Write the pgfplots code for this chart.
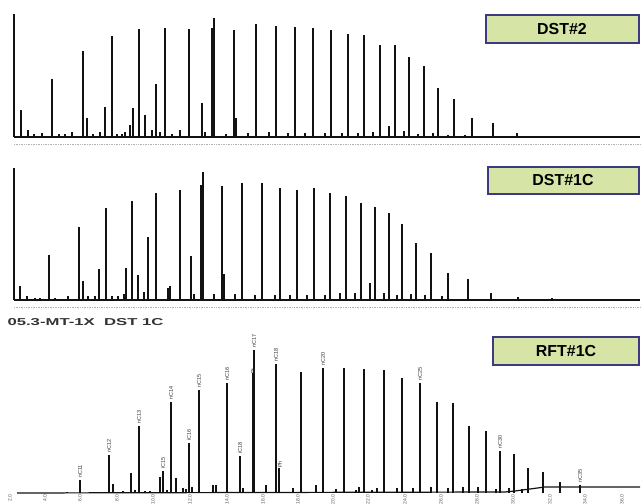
\documentclass[border=0pt]{standalone}
\usepackage{pgfplots}
\pgfplotsset{compat=1.18}
\usepackage{fontspec}
\setmainfont{Liberation Sans}
\usepackage{graphicx}
\definecolor{boxfill}{RGB}{214,228,166}
\definecolor{boxdraw}{RGB}{60,58,128}
\definecolor{ink}{RGB}{18,18,18}
\pgfplotsset{
 panel/.style={scale only axis, width=641bp, xmin=0, xmax=641,
   axis line style={draw=none}, xtick=\empty, ytick=\empty,
   clip=false, anchor=south west},
 peaks/.style={ycomb, ink, line width=1.8bp, mark=none},
 base/.style={ink, line width=1.2bp, mark=none},
}
\tikzset{plab/.style={font=\fontsize{5.5}{6}\selectfont, text=black!80, rotate=90, anchor=west, inner sep=1bp}}
\begin{document}
\begin{tikzpicture}[x=1bp,y=1bp]
\useasboundingbox (0,0) rectangle (641,504);
% ---------------- Panel 1: DST#2
\begin{axis}[panel, at={(0,354)}, height=150bp, ymin=-13, ymax=137]
\addplot[black!30, densely dotted, line width=0.7bp] coordinates {(14,-7) (640,-7)};
\addplot[base] coordinates {(14,0) (640,0)};
\addplot[peaks] coordinates {(14,123) (21,27) (28,7) (34,3) (42,4) (52,58) (59,3) (65,3) (72,5) (83,86) (87,19) (93,3) (100,5) (105,30) (112,101) (117,3) (122,3) (125,5) (130,12) (133,29) (139,108) (145,22) (152,7) (156,53) (160,5) (165,109) (172,3) (180,7) (189,108) (202,34) (205,5) (212,109) (214,119) (226,3) (234,107) (236,19) (248,4) (256,113) (269,5) (276,111) (288,4) (295,110) (305,4) (313,109) (325,4) (331,107) (342,4) (348,103) (358,4) (364,102) (373,5) (380,92) (389,11) (395,92) (404,6) (409,80) (418,3) (424,71) (433,4) (438,49) (448,2) (454,38) (465,2) (472,19) (493,14) (517,4) (547,1) (580,1)};
\draw[boxdraw, line width=2bp, fill=boxfill] (axis cs:486,94) rectangle (axis cs:639,122);
\node[font=\fontsize{16}{16}\selectfont\bfseries] at (axis cs:562,108) {DST\#2};
\end{axis}
% ---------------- Panel 2: DST#1C
\begin{axis}[panel, at={(0,186)}, height=168bp, ymin=-18, ymax=150]
\addplot[black!30, densely dotted, line width=0.7bp] coordinates {(14,-7) (640,-7)};
\addplot[base] coordinates {(14,0) (640,0)};
\addplot[peaks] coordinates {(14,132) (20,14) (27,4) (35,2) (40,2) (49,45) (55,2) (68,4) (79,73) (83,19) (88,4) (95,4) (99,31) (106,92) (112,4) (118,4) (124,6) (126,32) (132,99) (138,25) (144,8) (148,63) (156,107) (168,12) (170,14) (180,110) (191,44) (194,6) (201,115) (203,128) (214,6) (222,114) (224,26) (235,6) (242,117) (255,5) (262,117) (275,5) (280,112) (290,5) (297,110) (307,5) (314,112) (325,5) (330,107) (340,7) (346,104) (355,7) (361,97) (370,17) (375,93) (384,7) (389,87) (397,5) (402,76) (411,6) (416,57) (425,5) (431,47) (442,4) (448,27) (468,21) (481,1) (491,7) (518,3) (552,2) (590,1)};
\draw[boxdraw, line width=2bp, fill=boxfill] (axis cs:488,106) rectangle (axis cs:639,133);
\node[font=\fontsize{16}{16}\selectfont\bfseries] at (axis cs:563,119.5) {DST\#1C};
\end{axis}
% ---------------- Panel 3: RFT#1C
\begin{axis}[panel, at={(0,0)}, height=186bp, ymin=-11, ymax=175,
  axis x line=middle, axis y line=none,
  xtick={10,45,80,117,153,190,227,263,298,333,368,405,441,477,513,550,585,622},
  xticklabels={2.0,4.0,6.0,8.0,10.0,12.0,14.0,16.0,18.0,20.0,22.0,24.0,26.0,28.0,30.0,32.0,34.0,36.0},
  major tick length=0pt,
  xticklabel style={rotate=90, anchor=east, font=\fontsize{5}{5}\selectfont, text=black!65, inner sep=1.5bp}]
\addplot[base] coordinates {(17,0) (505,1) (515,2) (545,6) (640,6)};
\addplot[peaks, line width=1.5bp] coordinates {(67,1) (80,13) (98,1) (109,38) (113,9) (123,2) (131,20) (135,3) (139,67) (145,2) (150,2) (160,16) (163,22) (167,3) (171,91) (176,15) (183,5) (186,4) (189,50) (192,6) (199,103) (213,8) (216,8) (227,110) (240,37) (243,5) (253,120) (254,143) (266,8) (276,129) (279,25) (293,5) (301,121) (316,8) (323,125) (336,4) (344,125) (356,3) (359,6) (364,124) (372,3) (377,5) (384,123) (397,5) (402,115) (413,5) (420,110) (431,6) (437,91) (448,5) (453,90) (463,6) (469,67) (478,6) (486,62) (496,4) (500,42) (509,5) (514,39) (522,4) (528,25) (543,21) (560,11) (580,8)};
\node[plab] at (axis cs:80,14) {nC11};
\node[plab] at (axis cs:109,39) {nC12};
\node[plab] at (axis cs:139,68) {nC13};
\node[plab] at (axis cs:163,23) {iC15};
\node[plab] at (axis cs:171,92) {nC14};
\node[plab] at (axis cs:189,51) {iC16};
\node[plab] at (axis cs:199,104) {nC15};
\node[plab] at (axis cs:227,111) {nC16};
\node[plab] at (axis cs:240,38) {iC18};
\node[plab] at (axis cs:253,118) {Pr};
\node[plab] at (axis cs:254,144) {nC17};
\node[plab] at (axis cs:276,130) {nC18};
\node[plab] at (axis cs:280,24) {Ph};
\node[plab] at (axis cs:323,126) {nC20};
\node[plab] at (axis cs:420,111) {nC25};
\node[plab] at (axis cs:500,43) {nC30};
\node[plab] at (axis cs:580,9) {nC35};
\node[anchor=west, text=black!80] at (axis cs:4,171)
  {\resizebox{156bp}{7bp}{\bfseries 05.3-MT-1X\ \ DST 1C}};
\draw[boxdraw, line width=2bp, fill=boxfill] (axis cs:493,128) rectangle (axis cs:639,156);
\node[font=\fontsize{16}{16}\selectfont\bfseries] at (axis cs:566,142) {RFT\#1C};
\end{axis}
\end{tikzpicture}
\end{document}
